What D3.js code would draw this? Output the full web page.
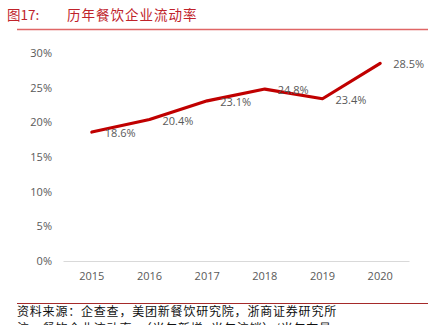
<!DOCTYPE html>
<html>
<head>
<meta charset="utf-8">
<script src="https://cdn.jsdelivr.net/npm/d3@7"></script>
<style>
  html, body { margin: 0; padding: 0; background: #fff; }
  svg { display: block; }
</style>
</head>
<body>
<svg id="chart" width="440" height="325"></svg>
<script>
// Restaurant enterprise turnover rate by year (%)
const years = ["2015", "2016", "2017", "2018", "2019", "2020"];
const rates = [18.6, 20.4, 23.1, 24.8, 23.4, 28.5];
const yTicks = [0, 5, 10, 15, 20, 25, 30];

const titleNo = "图17:";
const titleText = "历年餐饮企业流动率";
const sourceText = "资料来源：企查查，美团新餐饮研究院，浙商证券研究所";
const noteText = "注：餐饮企业流动率=（当年新增+当年注销）/当年存量";

const svg = d3.select("#chart");
const cjk = "'Noto Sans CJK SC', 'Noto Sans', sans-serif";
const latin = "'Open Sans', 'Noto Sans', sans-serif";

// Header
svg.append("text").attr("x", 7).attr("y", 20)
  .attr("font-family", cjk).attr("font-size", 13.5).attr("fill", "#c0232b")
  .text(titleNo);
svg.append("text").attr("x", 67).attr("y", 20)
  .attr("font-family", cjk).attr("font-size", 13.5).attr("fill", "#c0232b")
  .attr("letter-spacing", 1)
  .text(titleText);
svg.append("line").attr("x1", 17).attr("x2", 428).attr("y1", 29.5).attr("y2", 29.5)
  .attr("stroke", "#e06666").attr("stroke-width", 1.5);

// Plot area
const x = d3.scaleBand().domain(years).range([63, 409]);
const y = d3.scaleLinear().domain([0, 30]).range([261, 53]);

// Y axis labels
const yAxis = svg.append("g").attr("transform", "translate(52,0)")
  .call(d3.axisLeft(y).tickValues(yTicks).tickFormat(d => d + "%").tickSize(0).tickPadding(0));
yAxis.select(".domain").remove();
yAxis.selectAll("text").attr("font-family", latin).attr("font-size", 11).attr("fill", "#595959");

// X axis
const xAxis = svg.append("g").attr("transform", "translate(0,261)")
  .call(d3.axisBottom(x).tickSize(0).tickPadding(11));
xAxis.select(".domain").attr("stroke", "#d9d9d9").attr("stroke-width", 1);
xAxis.selectAll("text").attr("font-family", latin).attr("font-size", 11).attr("fill", "#595959");

// Line
const cx = d => x(d) + x.bandwidth() / 2;
const line = d3.line().x((d, i) => cx(years[i])).y(d => y(d));
svg.append("path").datum(rates)
  .attr("d", line).attr("fill", "none")
  .attr("stroke", "#c00000").attr("stroke-width", 3.2)
  .attr("stroke-linejoin", "round").attr("stroke-linecap", "round");

// Value labels, placed to the right of each point
svg.append("g").selectAll("text").data(rates).join("text")
  .attr("x", (d, i) => cx(years[i]) + 13)
  .attr("y", d => y(d) + 5)
  .attr("font-family", latin).attr("font-size", 11).attr("fill", "#595959")
  .text(d => d.toFixed(1) + "%");

// Footer
svg.append("line").attr("x1", 17).attr("x2", 428).attr("y1", 303.5).attr("y2", 303.5)
  .attr("stroke", "#a52a2a").attr("stroke-width", 1);
svg.append("text").attr("x", 17).attr("y", 316)
  .attr("font-family", cjk).attr("font-size", 12).attr("fill", "#111")
  .attr("letter-spacing", 0.8)
  .text(sourceText);
svg.append("text").attr("x", 17).attr("y", 333)
  .attr("font-family", cjk).attr("font-size", 12).attr("fill", "#111")
  .attr("letter-spacing", 0.8)
  .text(noteText);
</script>
</body>
</html>
